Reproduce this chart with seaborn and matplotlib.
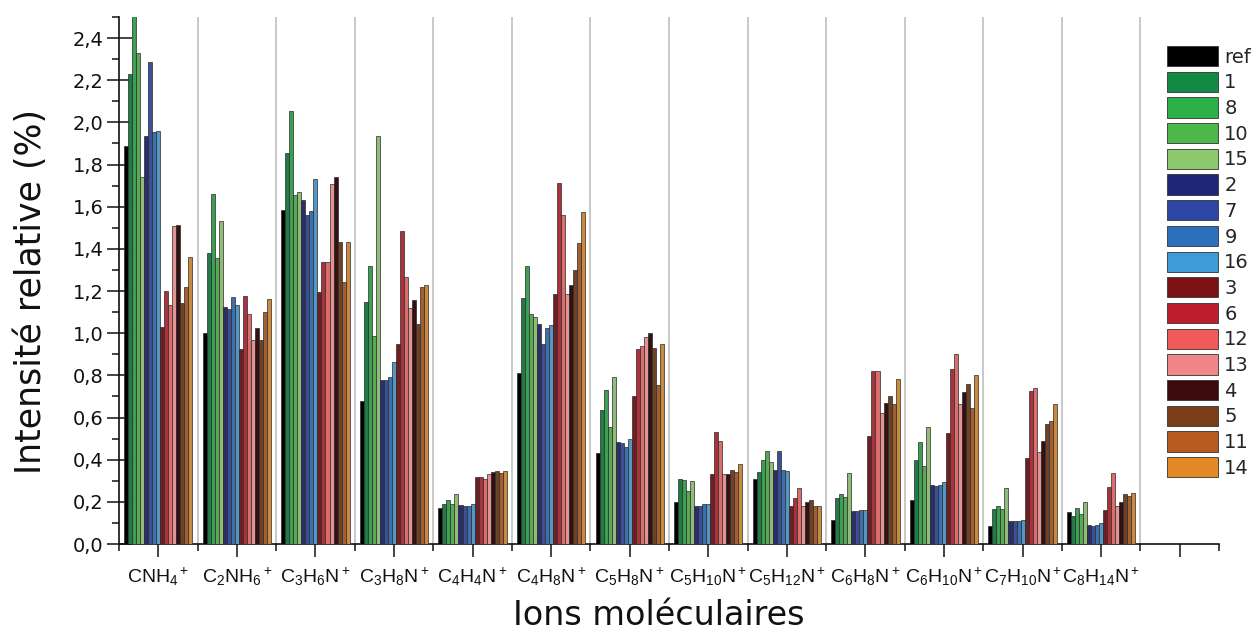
import matplotlib
matplotlib.use("Agg")
import matplotlib.pyplot as plt
from matplotlib.patches import Patch
from matplotlib.ticker import FixedLocator, MultipleLocator
import seaborn as sns
import pandas as pd

# ---------------- data ----------------
ions = [r"CNH$_4$$^+$", r"C$_2$NH$_6$$^+$", r"C$_3$H$_6$N$^+$", r"C$_3$H$_8$N$^+$",
        r"C$_4$H$_4$N$^+$", r"C$_4$H$_8$N$^+$", r"C$_5$H$_8$N$^+$", r"C$_5$H$_{10}$N$^+$",
        r"C$_5$H$_{12}$N$^+$", r"C$_6$H$_8$N$^+$", r"C$_6$H$_{10}$N$^+$", r"C$_7$H$_{10}$N$^+$",
        r"C$_8$H$_{14}$N$^+$"]

series_names = ["ref", "1", "8", "10", "15", "2", "7", "9", "16",
                "3", "6", "12", "13", "4", "5", "11", "14"]

s_ref = [1.89, 1.00, 1.586, 0.68, 0.17, 0.813, 0.433, 0.20, 0.308, 0.115, 0.21, 0.085, 0.15]
s_1 = [2.23, 1.38, 1.856, 1.148, 0.19, 1.169, 0.638, 0.31, 0.34, 0.22, 0.398, 0.165, 0.135]
s_8 = [2.52, 1.66, 2.055, 1.317, 0.21, 1.317, 0.73, 0.305, 0.40, 0.235, 0.482, 0.18, 0.17]
s_10 = [2.33, 1.357, 1.657, 0.986, 0.19, 1.093, 0.553, 0.25, 0.44, 0.225, 0.37, 0.165, 0.14]
s_15 = [1.74, 1.53, 1.67, 1.935, 0.235, 1.077, 0.79, 0.30, 0.39, 0.335, 0.556, 0.265, 0.20]
s_2 = [1.935, 1.125, 1.63, 0.78, 0.185, 1.046, 0.485, 0.18, 0.35, 0.155, 0.28, 0.11, 0.09]
s_7 = [2.286, 1.114, 1.56, 0.777, 0.18, 0.951, 0.477, 0.18, 0.44, 0.155, 0.275, 0.11, 0.085]
s_9 = [1.954, 1.17, 1.58, 0.79, 0.18, 1.025, 0.461, 0.19, 0.35, 0.16, 0.28, 0.11, 0.09]
s_16 = [1.96, 1.136, 1.733, 0.864, 0.19, 1.041, 0.496, 0.19, 0.345, 0.16, 0.295, 0.115, 0.10]
s_3 = [1.03, 0.924, 1.196, 0.948, 0.32, 1.185, 0.703, 0.33, 0.18, 0.512, 0.527, 0.409, 0.16]
s_6 = [1.20, 1.177, 1.338, 1.483, 0.32, 1.712, 0.923, 0.53, 0.22, 0.821, 0.828, 0.727, 0.27]
s_12 = [1.136, 1.089, 1.338, 1.267, 0.31, 1.559, 0.938, 0.49, 0.265, 0.821, 0.899, 0.738, 0.335]
s_13 = [1.507, 0.967, 1.706, 1.12, 0.33, 1.188, 0.982, 0.33, 0.18, 0.622, 0.662, 0.435, 0.18]
s_4 = [1.515, 1.025, 1.741, 1.156, 0.34, 1.23, 1.001, 0.33, 0.20, 0.67, 0.722, 0.49, 0.20]
s_5 = [1.144, 0.97, 1.433, 1.043, 0.345, 1.30, 0.932, 0.35, 0.21, 0.70, 0.758, 0.569, 0.235]
s_11 = [1.22, 1.10, 1.243, 1.217, 0.335, 1.428, 0.754, 0.34, 0.18, 0.663, 0.643, 0.584, 0.23]
s_14 = [1.36, 1.16, 1.433, 1.227, 0.345, 1.575, 0.951, 0.38, 0.18, 0.782, 0.804, 0.664, 0.24]

series_values = [s_ref, s_1, s_8, s_10, s_15, s_2, s_7, s_9, s_16,
                 s_3, s_6, s_12, s_13, s_4, s_5, s_11, s_14]

colors = ["#000000", "#138a43", "#2bb04a", "#4cb848", "#8cc86c",
          "#1f2677", "#2e46a6", "#2c6fbd", "#3f9bd8",
          "#7c1216", "#be1e2d", "#ef5a5a", "#f28585",
          "#3b0a0d", "#7a3f18", "#b55b20", "#e38a26"]

y_ticks = [0.0, 0.2, 0.4, 0.6, 0.8, 1.0, 1.2, 1.4, 1.6, 1.8, 2.0, 2.2, 2.4]
y_ticklabels = ["0,0", "0,2", "0,4", "0,6", "0,8", "1,0", "1,2", "1,4",
                "1,6", "1,8", "2,0", "2,2", "2,4"]

# ---------------- build long table ----------------
rows = []
for name, vals in zip(series_names, series_values):
    for ion, v in zip(ions, vals):
        rows.append({"ion": ion, "serie": name, "value": v})
df = pd.DataFrame(rows)

# ---------------- style ----------------
sns.set_style("ticks")
plt.rcParams["font.family"] = ["DejaVu Sans"]
plt.rcParams["mathtext.fontset"] = "custom"
plt.rcParams["mathtext.rm"] = "Liberation Sans"
plt.rcParams["mathtext.it"] = "Liberation Sans:italic"
plt.rcParams["mathtext.bf"] = "Liberation Sans:bold"

W, H = 1256, 631
fig = plt.figure(figsize=(W / 100, H / 100), dpi=100)
ax = fig.add_axes([119 / W, (H - 544) / H, (1219 - 119) / W, (544 - 17) / H])

sns.barplot(data=df, x="ion", y="value", hue="serie", order=ions,
            hue_order=series_names, palette=colors, width=0.87,
            edgecolor="#2a2a2a", linewidth=0.5, legend=False, ax=ax,
            errorbar=None, zorder=3)

ax.set_xlim(-0.5, 13.5)
ax.set_ylim(0, 2.5)

# vertical separators between ion groups
for b in [i + 0.5 for i in range(len(ions))]:
    ax.axvline(b, color="#c4c4c4", lw=1.3, zorder=1)

# spines
for s in ["top", "right"]:
    ax.spines[s].set_visible(False)
for s in ["left", "bottom"]:
    ax.spines[s].set_linewidth(1.2)
    ax.spines[s].set_color("#111111")

# y ticks
ax.yaxis.set_major_locator(FixedLocator(y_ticks))
ax.set_yticklabels(y_ticklabels)
ax.yaxis.set_minor_locator(MultipleLocator(0.1))
ax.tick_params(axis="y", which="major", direction="inout", length=18, width=1.1,
               labelsize=14, pad=2, colors="#111111")
ax.tick_params(axis="y", which="minor", direction="out", length=5, width=1.1, colors="#111111")

# x ticks
ax.set_xticks(range(len(ions) + 1))
ax.set_xticklabels(ions + [""], fontfamily="Liberation Sans")
ax.xaxis.set_minor_locator(FixedLocator([i - 0.5 for i in range(len(ions) + 2)]))
ax.tick_params(axis="x", which="major", direction="out", length=9.5, width=1.1,
               labelsize=14, pad=6, colors="#111111")
ax.tick_params(axis="x", which="minor", direction="out", length=5, width=1.1, colors="#111111")

ax.set_xlabel("Ions moléculaires", fontsize=24, color="#111111")
ax.xaxis.set_label_coords(0.491, -0.104)
ax.set_ylabel("Intensité relative (%)", fontsize=25, color="#111111")
ax.yaxis.set_label_coords(-(119 - 48) / 1100, 0.48)

# legend
handles = [Patch(facecolor=c, edgecolor="#333333", linewidth=0.6) for c in colors]
fig.legend(handles, series_names, loc="upper left",
           bbox_to_anchor=(1167 / W, 1 - 46 / H), frameon=False, fontsize=14,
           handlelength=2.6, handleheight=1.22, labelspacing=0.26,
           handletextpad=0.35, borderpad=0, borderaxespad=0)

fig.savefig("out.png", dpi=100)
